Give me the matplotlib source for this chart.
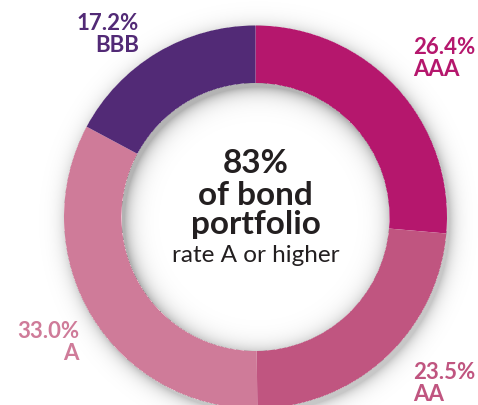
import numpy as np
import matplotlib.pyplot as plt

# rating shares of the bond portfolio (clockwise from 12 o'clock)
ratings = ["AAA", "AA", "A", "BBB"]
shares = [26.4, 23.5, 33.0, 17.2]
colors = ["#b5176d", "#c05580", "#cf7b99", "#522a76"]

center_lines = ["83%", "of bond", "portfolio"]
sub_light = "rate A or higher"

W, H = 478, 406
cx_px, cy_px = 255.5, 218
cx, cy = cx_px, H - cy_px
r_out, r_in = 191.5, 134

fig = plt.figure(figsize=(W / 100, H / 100), dpi=100)
ax = fig.add_axes([0, 0, 1, 1])

ax.pie(shares, colors=colors, startangle=90, counterclock=False,
       center=(cx, cy), radius=r_out, frame=True,
       wedgeprops=dict(width=r_out - r_in, linewidth=0))

# drop shadow of the ring (light from top-left), inside the hole and outside
px, py = np.meshgrid(np.arange(W) + 0.5, np.arange(H) + 0.5)
dist = np.hypot(px - cx_px, py - cy_px)
dist_off = np.hypot(px - cx_px - 3, py - cy_px - 4)
alpha = np.zeros((H, W))
hole = dist < r_in
alpha[hole] = 0.30 * np.exp(-np.clip(r_in - dist_off[hole], 0, None) / 8)
outside = dist > r_out
alpha[outside] = 0.22 * np.exp(-np.clip(dist_off[outside] - r_out, 0, None) / 7)
shadow = np.zeros((H, W, 4))
shadow[..., 3] = alpha
ax.imshow(shadow, extent=(0, W, 0, H), origin="upper", zorder=3, interpolation="bilinear")

ax.set_xlim(0, W)
ax.set_ylim(0, H)
ax.set_aspect("equal")
ax.axis("off")

font = "Lato"
dark = "#231f20"
for line, ly in zip(center_lines, [164, 196, 225]):
    ax.text(cx, H - ly, line, ha="center", va="center", fontsize=24,
            fontweight="bold", color=dark, family=font, zorder=5)
ax.text(cx, H - 255, sub_light, ha="center", va="center", fontsize=17.5,
        fontweight="normal", color=dark, family=font, zorder=5)

# outer labels: (x, y of percent line, alignment)
label_pos = [(413, 48, "left"), (413, 373, "left"), (79, 332, "right"), (139, 24, "right")]
for name, val, col, (lx, ly, align) in zip(ratings, shares, colors, label_pos):
    ax.text(lx, H - ly, f"{val:.1f}%", ha=align, va="center", fontsize=16,
            fontweight="bold", color=col, family=font, zorder=5)
    ax.text(lx, H - ly - 22, name, ha=align, va="center", fontsize=16,
            fontweight="bold", color=col, family=font, zorder=5)

fig.savefig("out.png", dpi=100)
